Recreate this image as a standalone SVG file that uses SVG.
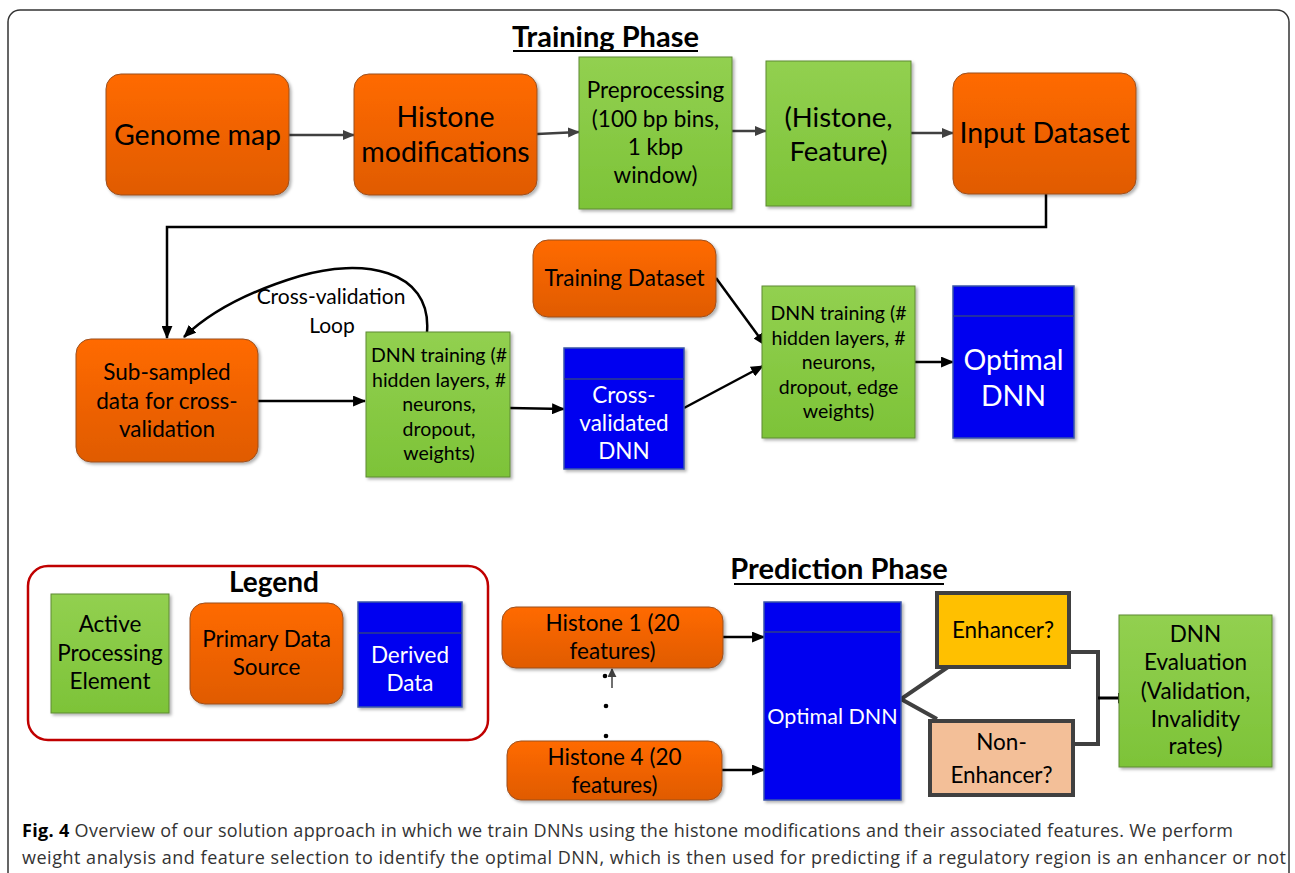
<svg xmlns="http://www.w3.org/2000/svg" width="1295" height="873" viewBox="0 0 1295 873">
<defs>
  <linearGradient id="gOr" x1="0" y1="0" x2="0" y2="1">
    <stop offset="0" stop-color="#FF6A00"/>
    <stop offset="1" stop-color="#E05B00"/>
  </linearGradient>
  <linearGradient id="gGr" x1="0" y1="0" x2="0" y2="1">
    <stop offset="0" stop-color="#92D050"/>
    <stop offset="1" stop-color="#7DC338"/>
  </linearGradient>
  <filter id="sh" x="-10%" y="-10%" width="125%" height="125%">
    <feDropShadow dx="2" dy="2" stdDeviation="1.5" flood-color="#000" flood-opacity="0.3"/>
  </filter>
  <marker id="ahG" viewBox="0 0 12 10" refX="11" refY="5" markerWidth="12" markerHeight="10" markerUnits="userSpaceOnUse" orient="auto">
    <path d="M0,0 L12,5 L0,10 z" fill="#404040"/>
  </marker>
  <marker id="ahB" viewBox="0 0 12 10" refX="11" refY="5" markerWidth="13" markerHeight="11" markerUnits="userSpaceOnUse" orient="auto">
    <path d="M0,0 L12,5 L0,10 z" fill="#000"/>
  </marker>
  <marker id="ahS" viewBox="0 0 10 10" refX="9" refY="5" markerWidth="9" markerHeight="9" markerUnits="userSpaceOnUse" orient="auto">
    <path d="M0,0 L10,5 L0,10 z" fill="#404040"/>
  </marker>
</defs>
<style>
  .or { fill: url(#gOr); stroke: #9A5020; stroke-width: 1; filter: url(#sh); }
  .gr { fill: url(#gGr); stroke: #5E8A34; stroke-width: 1; filter: url(#sh); }
  .bl { fill: #0000F0; stroke: #3A55A8; stroke-width: 1.5; filter: url(#sh); }
  .hdr { stroke: #2E3F8A; stroke-width: 1.5; }
  .tx { font-family: Lato, "Liberation Sans", sans-serif; fill: #000; text-anchor: middle; }
  .wt { fill: #FFFFFF; }
  .s29 { font-size: 28.5px; }
  .s27 { font-size: 27.5px; }
  .s22 { font-size: 22.5px; }
  .s21 { font-size: 21px; }
  .s19 { font-size: 19.5px; }
  .ttl { font-family: Lato, "Liberation Sans", sans-serif; font-weight: bold; font-size: 29px; fill: #000; text-anchor: middle; }
  .gl { stroke: #404040; stroke-width: 2.5; fill: none; }
  .bk { stroke: #000; stroke-width: 2.5; fill: none; }
  .dk { stroke: #404040; stroke-width: 4; fill: none; }
  .cap { font-family: "Open Sans", "Liberation Sans", sans-serif; font-size: 18px; fill: #333; }
</style>

<rect x="0" y="0" width="1295" height="873" fill="#FFFFFF"/>
<rect id="frame" x="8" y="10" width="1281" height="900" rx="12" fill="none" stroke="#333" stroke-width="1.5"/>

<g id="title-training">
  <text class="ttl" x="605.5" y="47">Training Phase</text>
  <line x1="513" y1="51" x2="698" y2="51" stroke="#000" stroke-width="2"/>
</g>

<g id="connectors">
  <line class="gl" x1="289" y1="135" x2="354" y2="135" marker-end="url(#ahG)"/>
  <line class="gl" x1="537" y1="134" x2="579" y2="132" marker-end="url(#ahG)"/>
  <line class="gl" x1="723" y1="131" x2="766" y2="131" marker-end="url(#ahG)"/>
  <line class="gl" x1="911" y1="133" x2="953" y2="133" marker-end="url(#ahG)"/>
  <polyline class="bk" points="1046,194 1046,227 167,227 167,338" marker-end="url(#ahB)"/>
  <path class="bk" d="M 427 332 C 432 268, 360 258, 300 276 C 250 291, 212 310, 184 337" marker-end="url(#ahB)"/>
  <line class="bk" x1="258" y1="401" x2="365" y2="401" marker-end="url(#ahB)"/>
  <line class="bk" x1="510" y1="408" x2="564" y2="409" marker-end="url(#ahB)"/>
  <line class="bk" x1="716" y1="278" x2="765" y2="345" marker-end="url(#ahB)"/>
  <line class="bk" x1="684" y1="408" x2="763" y2="366" marker-end="url(#ahB)"/>
  <line class="bk" x1="915" y1="362" x2="953" y2="362" marker-end="url(#ahB)"/>
  <line class="bk" x1="723" y1="637" x2="764" y2="637" marker-end="url(#ahB)"/>
  <line class="bk" x1="722" y1="770" x2="764" y2="770" marker-end="url(#ahB)"/>
  <line x1="612" y1="688" x2="612" y2="669" stroke="#404040" stroke-width="1.5" marker-end="url(#ahS)"/>
  <polyline class="dk" points="948,667 901,699 937,719"/>
  <polyline class="dk" points="1067,652 1098,652 1098,744 1067,744"/>
  <line x1="1098" y1="698" x2="1130" y2="698" stroke="#000" stroke-width="3" marker-end="url(#ahB)"/>
</g>

<g id="genome-map">
  <rect class="or" x="106" y="74" width="183" height="121" rx="15"/>
  <text class="tx s29" x="197.5" y="145">Genome map</text>
</g>
<g id="histone-modifications">
  <rect class="or" x="354" y="74" width="183" height="121" rx="15"/>
  <text class="tx s29" x="445.5" y="127">Histone</text>
  <text class="tx s29" x="445.5" y="162">modifications</text>
</g>
<g id="preprocessing">
  <rect class="gr" x="579" y="57" width="153" height="152"/>
  <text class="tx s22" x="655.5" y="98">Preprocessing</text>
  <text class="tx s22" x="655.5" y="127">(100 bp bins,</text>
  <text class="tx s22" x="655.5" y="155">1 kbp</text>
  <text class="tx s22" x="655.5" y="183">window)</text>
</g>
<g id="histone-feature">
  <rect class="gr" x="766" y="61" width="145" height="145"/>
  <text class="tx s27" x="838.5" y="127">(Histone,</text>
  <text class="tx s27" x="838.5" y="161">Feature)</text>
</g>
<g id="input-dataset">
  <rect class="or" x="953" y="73" width="183" height="121" rx="15"/>
  <text class="tx s29" x="1044.5" y="143">Input Dataset</text>
</g>

<g id="subsampled">
  <rect class="or" x="76" y="339" width="182" height="123" rx="15"/>
  <text class="tx s22" x="167" y="380">Sub-sampled</text>
  <text class="tx s22" x="167" y="409">data for cross-</text>
  <text class="tx s22" x="167" y="437">validation</text>
</g>
<g id="cv-loop-label">
  <text class="tx s21" x="331" y="304">Cross-validation</text>
  <text class="tx s21" x="332" y="333">Loop</text>
</g>
<g id="dnn-training-cv">
  <rect class="gr" x="366" y="332" width="144" height="145"/>
  <text class="tx s19" x="439" y="362">DNN training (#</text>
  <text class="tx s19" x="439" y="387">hidden layers, #</text>
  <text class="tx s19" x="439" y="411">neurons,</text>
  <text class="tx s19" x="439" y="436">dropout,</text>
  <text class="tx s19" x="439" y="460">weights)</text>
</g>
<g id="cross-validated-dnn">
  <rect class="bl" x="564" y="348" width="120" height="121"/>
  <line class="hdr" x1="564" y1="379" x2="684" y2="379"/>
  <text class="tx wt s22" x="624" y="403">Cross-</text>
  <text class="tx wt s22" x="624" y="431">validated</text>
  <text class="tx wt s22" x="624" y="459">DNN</text>
</g>
<g id="training-dataset">
  <rect class="or" x="533" y="240" width="183" height="77" rx="15"/>
  <text class="tx s22" x="624.5" y="286">Training Dataset</text>
</g>
<g id="dnn-training-final">
  <rect class="gr" x="762" y="286" width="153" height="152"/>
  <text class="tx s19" x="838.5" y="320">DNN training (#</text>
  <text class="tx s19" x="838.5" y="345">hidden layers, #</text>
  <text class="tx s19" x="838.5" y="369">neurons,</text>
  <text class="tx s19" x="838.5" y="394">dropout, edge</text>
  <text class="tx s19" x="838.5" y="418">weights)</text>
</g>
<g id="optimal-dnn-train">
  <rect class="bl" x="953" y="286" width="121" height="152"/>
  <line class="hdr" x1="953" y1="316" x2="1074" y2="316"/>
  <text class="tx wt s29" x="1013.5" y="370">Optimal</text>
  <text class="tx wt s29" x="1013.5" y="406">DNN</text>
</g>

<g id="legend">
  <rect x="28" y="566" width="460" height="174" rx="20" fill="#FFFFFF" stroke="#C00000" stroke-width="2.5"/>
  <text class="ttl" x="274" y="592" style="font-size:28px">Legend</text>
  <g id="legend-active">
    <rect class="gr" x="51" y="594" width="118" height="119"/>
    <text class="tx s22" x="110" y="632">Active</text>
    <text class="tx s22" x="110" y="661">Processing</text>
    <text class="tx s22" x="110" y="689">Element</text>
  </g>
  <g id="legend-primary">
    <rect class="or" x="190" y="603" width="153" height="101" rx="15"/>
    <text class="tx s22" x="266.5" y="647">Primary Data</text>
    <text class="tx s22" x="266.5" y="675">Source</text>
  </g>
  <g id="legend-derived">
    <rect class="bl" x="358" y="602" width="104" height="105"/>
    <line class="hdr" x1="358" y1="633" x2="462" y2="633"/>
    <text class="tx wt s22" x="410" y="663">Derived</text>
    <text class="tx wt s22" x="410" y="691">Data</text>
  </g>
</g>

<g id="title-prediction">
  <text class="ttl" x="839" y="579">Prediction Phase</text>
  <line x1="734" y1="584" x2="944" y2="584" stroke="#000" stroke-width="2"/>
</g>
<g id="histone-1">
  <rect class="or" x="502" y="607" width="221" height="61" rx="14"/>
  <text class="tx s22" x="612.5" y="631">Histone 1 (20</text>
  <text class="tx s22" x="612.5" y="659">features)</text>
</g>
<g id="ellipsis">
  <circle cx="605" cy="676" r="2.3" fill="#000"/>
  <circle cx="606" cy="706" r="2.3" fill="#000"/>
  <circle cx="606" cy="736" r="2.3" fill="#000"/>
</g>
<g id="histone-4">
  <rect class="or" x="507" y="741" width="215" height="59" rx="14"/>
  <text class="tx s22" x="614.5" y="765">Histone 4 (20</text>
  <text class="tx s22" x="614.5" y="793">features)</text>
</g>
<g id="optimal-dnn-pred">
  <rect class="bl" x="764" y="602" width="137" height="198"/>
  <line class="hdr" x1="764" y1="632" x2="901" y2="632"/>
  <text class="tx wt" x="832.5" y="724" style="font-size:21.5px">Optimal DNN</text>
</g>
<g id="enhancer">
  <rect x="937" y="593" width="132" height="74" fill="#FFC000" stroke="#404040" stroke-width="4"/>
  <text class="tx s22" x="1003" y="638">Enhancer?</text>
</g>
<g id="non-enhancer">
  <rect x="930" y="721" width="143" height="74" fill="#F3BF98" stroke="#404040" stroke-width="4"/>
  <text class="tx s22" x="1001.5" y="750">Non-</text>
  <text class="tx s22" x="1001.5" y="783">Enhancer?</text>
</g>
<g id="dnn-evaluation">
  <rect class="gr" x="1119" y="615" width="153" height="152"/>
  <text class="tx s22" x="1195.5" y="642">DNN</text>
  <text class="tx s22" x="1195.5" y="670">Evaluation</text>
  <text class="tx s22" x="1195.5" y="699">(Validation,</text>
  <text class="tx s22" x="1195.5" y="727">Invalidity</text>
  <text class="tx s22" x="1195.5" y="754">rates)</text>
</g>

<g id="caption">
  <text class="cap" x="22" y="837" textLength="1211" lengthAdjust="spacing"><tspan font-weight="bold" fill="#000">Fig. 4</tspan> Overview of our solution approach in which we train DNNs using the histone modifications and their associated features. We perform</text>
  <text class="cap" x="22" y="864" textLength="1264" lengthAdjust="spacing">weight analysis and feature selection to identify the optimal DNN, which is then used for predicting if a regulatory region is an enhancer or not</text>
</g>
</svg>
